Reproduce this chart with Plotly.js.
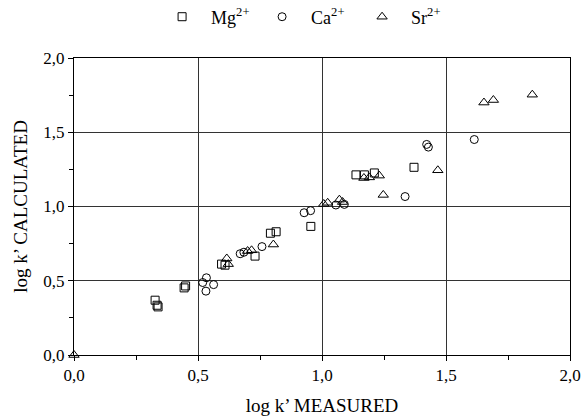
<!DOCTYPE html>
<html>
<head>
<meta charset="utf-8">
<script src="https://cdn.plot.ly/plotly-3.0.1.min.js"></script>
<style>body{margin:0;padding:0;background:#fff}#chart{width:584px;height:420px}</style>
</head>
<body>
<div id="chart"></div>
<script>
// Mg2+ (squares)
const mgMeasured   = [0.327, 0.335, 0.339, 0.444, 0.450, 0.595, 0.609, 0.730, 0.792, 0.815, 0.955, 1.137, 1.171, 1.211, 1.371];
const mgCalculated = [0.369, 0.335, 0.324, 0.452, 0.465, 0.612, 0.605, 0.666, 0.820, 0.830, 0.866, 1.213, 1.213, 1.226, 1.264];
// Ca2+ (circles)
const caMeasured   = [0.519, 0.534, 0.563, 0.532, 0.670, 0.685, 0.758, 0.928, 0.954, 1.056, 1.090, 1.335, 1.422, 1.429, 1.614];
const caCalculated = [0.488, 0.520, 0.474, 0.430, 0.682, 0.692, 0.730, 0.958, 0.972, 1.010, 1.014, 1.067, 1.418, 1.400, 1.451];
// Sr2+ (triangles)
const srMeasured   = [0.000, 0.616, 0.622, 0.700, 0.716, 0.804, 1.007, 1.023, 1.070, 1.083, 1.169, 1.191, 1.231, 1.247, 1.467, 1.653, 1.691, 1.848];
const srCalculated = [0.000, 0.650, 0.612, 0.700, 0.705, 0.744, 1.017, 1.025, 1.046, 1.030, 1.192, 1.196, 1.208, 1.078, 1.244, 1.700, 1.717, 1.753];

const seriesNames = ['&nbsp;&nbsp;Mg<sup>2+</sup>', '&nbsp;&nbsp;Ca<sup>2+</sup>', '&nbsp;&nbsp;Sr<sup>2+</sup>'];
const xTitle = 'log k’ MEASURED';
const yTitle = 'log k’ CALCULATED';

const font = 'Liberation Serif, Times New Roman, serif';
function mk(x, y, name, symbol, size) {
  return {
    x: x, y: y, name: name, type: 'scatter', mode: 'markers', cliponaxis: false,
    marker: {symbol: symbol, size: size, color: '#000', line: {color: '#000', width: 1}}
  };
}
const data = [
  mk(mgMeasured, mgCalculated, seriesNames[0], 'square-open', 8),
  mk(caMeasured, caCalculated, seriesNames[1], 'circle-open', 8),
  mk(srMeasured, srCalculated, seriesNames[2], 'triangle-up-open', 9)
];
const axisCommon = {
  range: [0, 2], dtick: 0.5, tick0: 0, tickformat: '.1f',
  showgrid: true, gridcolor: '#333', gridwidth: 1,
  zeroline: false, showline: true, linecolor: '#000', linewidth: 1, mirror: true,
  ticks: 'outside', ticklen: 5, tickcolor: '#000', tickwidth: 1,
  minor: {dtick: 0.25, ticks: 'outside', ticklen: 4, tickcolor: '#000', showgrid: false},
  tickfont: {family: font, size: 17, color: '#000'}
};
const layout = {
  width: 584, height: 420,
  margin: {l: 74, r: 14, t: 58, b: 65, autoexpand: false},
  paper_bgcolor: '#fff', plot_bgcolor: '#fff',
  separators: ', ',
  font: {family: font, color: '#000'},
  showlegend: true,
  legend: {
    orientation: 'h', x: 0.48, xanchor: 'center', y: 1.138, yanchor: 'middle',
    font: {family: font, size: 18, color: '#000'}, entrywidth: 55, entrywidthmode: 'pixels', itemclick: false
  },
  xaxis: Object.assign({}, axisCommon, {title: {text: xTitle, font: {family: font, size: 19, color: '#000'}, standoff: 14}}),
  yaxis: Object.assign({}, axisCommon, {title: {text: yTitle, font: {family: font, size: 19, color: '#000'}, standoff: 10}})
};
Plotly.newPlot('chart', data, layout, {displayModeBar: false, staticPlot: true});
</script>
</body>
</html>
